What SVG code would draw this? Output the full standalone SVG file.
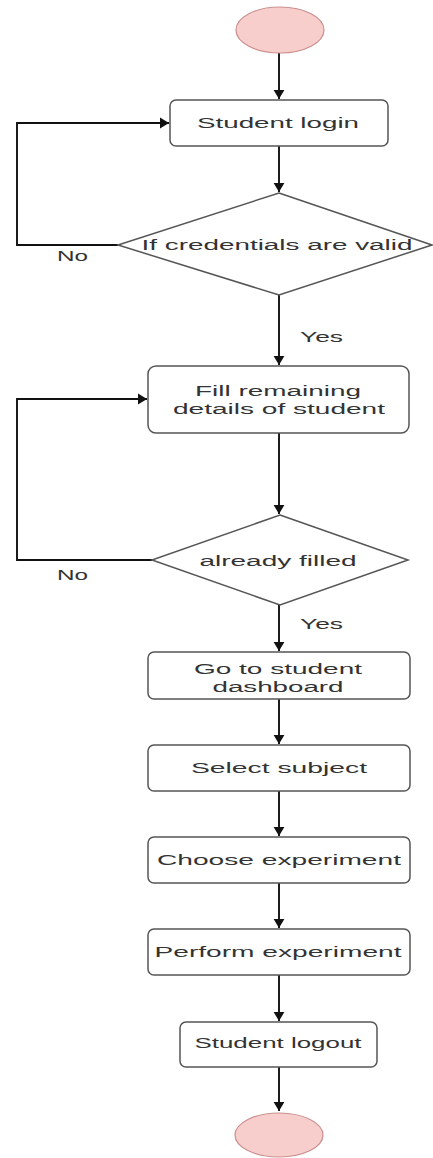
<svg xmlns="http://www.w3.org/2000/svg" width="433" height="1158" viewBox="0 0 433 1158">
  <style>
    .term { fill: #f8cecc; stroke: #c9908e; stroke-width: 1.2; }
    .box { fill: #ffffff; stroke: #555555; stroke-width: 1.5; }
    .dec { fill: #ffffff; stroke: #555555; stroke-width: 1.5; }
    .edge { fill: none; stroke: #111111; stroke-width: 1.9; }
    .lbl { font-family: "Liberation Sans", Arial, sans-serif; font-size: 15.5px; fill: #333333; }
    .mid { text-anchor: middle; }
  </style>
  <defs>
    <marker id="arrow" viewBox="0 0 10 12" refX="10" refY="6" markerWidth="9" markerHeight="12" markerUnits="userSpaceOnUse" orient="auto">
      <path d="M0,0 L10,6 L0,12 z" fill="#111111"/>
    </marker>
  </defs>
  <rect width="433" height="1158" fill="#ffffff"/>

  <!-- connectors -->
  <g id="connectors">
    <path class="edge" d="M279,53 V99" marker-end="url(#arrow)"/>
    <path class="edge" d="M279,146 V192" marker-end="url(#arrow)"/>
    <path class="edge" d="M118,245 H17 V123 H169" marker-end="url(#arrow)"/>
    <path class="edge" d="M279,295 V365" marker-end="url(#arrow)"/>
    <path class="edge" d="M279,433 V514" marker-end="url(#arrow)"/>
    <path class="edge" d="M152,560 H17 V399 H147" marker-end="url(#arrow)"/>
    <path class="edge" d="M279,605 V651" marker-end="url(#arrow)"/>
    <path class="edge" d="M279,699 V744" marker-end="url(#arrow)"/>
    <path class="edge" d="M279,791 V836" marker-end="url(#arrow)"/>
    <path class="edge" d="M279,883 V928" marker-end="url(#arrow)"/>
    <path class="edge" d="M279,975 V1021" marker-end="url(#arrow)"/>
    <path class="edge" d="M279,1067 V1111" marker-end="url(#arrow)"/>
    <text class="lbl" x="57" y="261" textLength="31" lengthAdjust="spacingAndGlyphs">No</text>
    <text class="lbl" x="300" y="342" textLength="43" lengthAdjust="spacingAndGlyphs">Yes</text>
    <text class="lbl" x="57" y="580" textLength="31" lengthAdjust="spacingAndGlyphs">No</text>
    <text class="lbl" x="300" y="629" textLength="43" lengthAdjust="spacingAndGlyphs">Yes</text>
  </g>

  <!-- start -->
  <g id="start">
    <ellipse class="term" cx="280" cy="30" rx="44" ry="23"/>
  </g>

  <g id="login">
    <rect class="box" x="170" y="100" width="218" height="46" rx="6"/>
    <text class="lbl mid" x="278" y="128" textLength="162" lengthAdjust="spacingAndGlyphs">Student login</text>
  </g>

  <g id="check-credentials">
    <polygon class="dec" points="279,193 432,245 279,295 118,245"/>
    <text class="lbl mid" x="277" y="250" textLength="271" lengthAdjust="spacingAndGlyphs">If credentials are valid</text>
  </g>

  <g id="fill-details">
    <rect class="box" x="148" y="366" width="261" height="67" rx="8"/>
    <text class="lbl mid" x="278" y="396" textLength="166" lengthAdjust="spacingAndGlyphs">Fill remaining</text>
    <text class="lbl mid" x="279" y="414" textLength="212" lengthAdjust="spacingAndGlyphs">details of student</text>
  </g>

  <g id="check-filled">
    <polygon class="dec" points="280,515 408,560 280,605 152,560"/>
    <text class="lbl mid" x="278" y="566" textLength="157" lengthAdjust="spacingAndGlyphs">already filled</text>
  </g>

  <g id="dashboard">
    <rect class="box" x="148" y="652" width="262" height="47" rx="6"/>
    <text class="lbl mid" x="278" y="674" textLength="168" lengthAdjust="spacingAndGlyphs">Go to student</text>
    <text class="lbl mid" x="278" y="692" textLength="131" lengthAdjust="spacingAndGlyphs">dashboard</text>
  </g>

  <g id="select-subject">
    <rect class="box" x="148" y="745" width="262" height="46" rx="6"/>
    <text class="lbl mid" x="279" y="773" textLength="176" lengthAdjust="spacingAndGlyphs">Select subject</text>
  </g>

  <g id="choose-experiment">
    <rect class="box" x="148" y="837" width="262" height="46" rx="6"/>
    <text class="lbl mid" x="279" y="865" textLength="244" lengthAdjust="spacingAndGlyphs">Choose experiment</text>
  </g>

  <g id="perform-experiment">
    <rect class="box" x="148" y="929" width="262" height="46" rx="6"/>
    <text class="lbl mid" x="278" y="957" textLength="247" lengthAdjust="spacingAndGlyphs">Perform experiment</text>
  </g>

  <g id="logout">
    <rect class="box" x="180" y="1022" width="197" height="45" rx="6"/>
    <text class="lbl mid" x="278" y="1048" textLength="167" lengthAdjust="spacingAndGlyphs">Student logout</text>
  </g>

  <!-- end -->
  <g id="end">
    <ellipse class="term" cx="279" cy="1135" rx="44" ry="22"/>
  </g>
</svg>
